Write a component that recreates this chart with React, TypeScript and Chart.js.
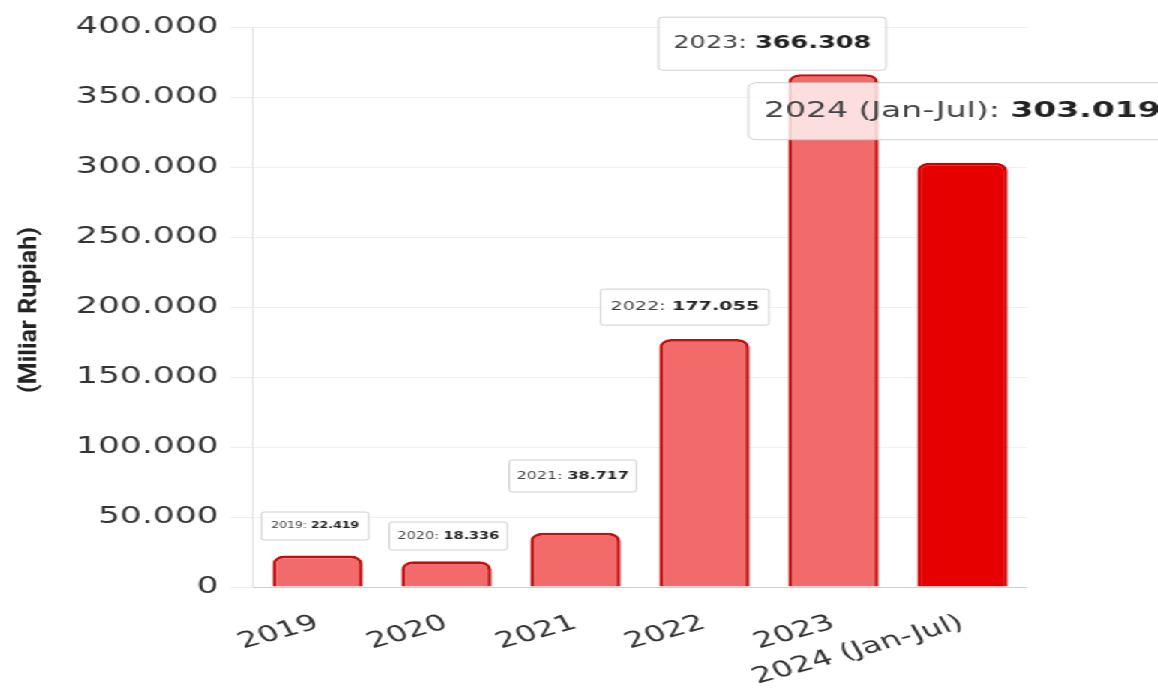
import React, { useEffect, useRef } from 'react';
import { Chart, registerables } from 'chart.js';

Chart.register(...registerables);

// ---------- data ----------
const categories = ['2019', '2020', '2021', '2022', '2023', '2024 (Jan-Jul)'];
const values = [22419, 18336, 38717, 177055, 366308, 303019];
const yMax = 400000;
const yStep = 50000;
const axisTitle = '(Miliar Rupiah)';

// ---------- styles ----------
const SX = 1.5; // horizontal stretch of the picture
const W = 1158;
const H = 695;
const FONT = '"DejaVu Sans", sans-serif';

const barFill = ['#f26a6a', '#f26a6a', '#f26a6a', '#f26a6a', '#f26a6a', '#e60000'];
const barEdge = ['#c30e0e', '#c30e0e', '#c30e0e', '#c30e0e', '#c30e0e', '#d00000'];

// callout boxes: font size, x shift, gap above bar, box height, side padding, radius
const calloutStyle = [
  { size: 8.3, dx: -1.7, gap: 15.6, h: 28, padX: 6.5, r: 2 },
  { size: 9.6, dx: 1.3, gap: 11.3, h: 28, padX: 5.5, r: 2 },
  { size: 10.6, dx: -1.7, gap: 40.8, h: 32, padX: 5, r: 2 },
  { size: 12.8, dx: -13, gap: 14, h: 36, padX: 6.5, r: 2 },
  { size: 17, dx: -40.7, gap: 4, h: 53, padX: 10, r: 3 },
  { size: 22, dx: 0, gap: 23, h: 57, padX: 10.5, r: 5 },
];

const fmt = (v: number) => String(v).replace(/\B(?=(\d{3})+(?!\d))/g, '.');

const calloutPlugin = {
  id: 'callouts',
  afterDatasetsDraw(chart: any) {
    const ctx = chart.ctx as CanvasRenderingContext2D;
    const meta = chart.getDatasetMeta(0);
    meta.data.forEach((bar: any, i: number) => {
      const st = calloutStyle[i];
      const normal = categories[i] + ': ';
      const bold = fmt(values[i]);
      ctx.save();
      ctx.font = `${st.size}px ${FONT}`;
      const w1 = ctx.measureText(normal).width;
      ctx.font = `bold ${st.size}px ${FONT}`;
      const w2 = ctx.measureText(bold).width;
      const bw = w1 + w2 + 2 * st.padX;
      const cx = bar.x + st.dx;
      const bottom = bar.y - st.gap;
      const top = bottom - st.h;
      const left = cx - bw / 2;
      ctx.beginPath();
      (ctx as any).roundRect(left, top, bw, st.h, st.r);
      ctx.fillStyle = 'rgba(255,255,255,0.78)';
      ctx.fill();
      ctx.lineWidth = 0.8;
      ctx.strokeStyle = '#c4c4c4';
      ctx.stroke();
      ctx.textBaseline = 'middle';
      ctx.textAlign = 'left';
      const ty = top + st.h / 2;
      ctx.font = `${st.size}px ${FONT}`;
      ctx.fillStyle = '#444';
      ctx.fillText(normal, left + st.padX, ty);
      ctx.font = `bold ${st.size}px ${FONT}`;
      ctx.fillStyle = '#222';
      ctx.fillText(bold, left + st.padX + w1, ty);
      ctx.restore();
    });
  },
};

const titlePlugin = {
  id: 'yTitle',
  afterDraw(chart: any) {
    const ctx = chart.ctx as CanvasRenderingContext2D;
    const { top, bottom } = chart.chartArea;
    ctx.save();
    ctx.translate(30 / SX, (top + bottom) / 2 + 3);
    ctx.scale(1 / SX, 1);
    ctx.rotate(-Math.PI / 2);
    ctx.scale(0.96, 1);
    ctx.font = 'bold 26px Roboto, "Liberation Sans", sans-serif';
    ctx.fillStyle = '#222';
    ctx.textAlign = 'center';
    ctx.textBaseline = 'middle';
    ctx.fillText(axisTitle, 0, 0);
    ctx.restore();
  },
};

export default function App() {
  const ref = useRef<HTMLCanvasElement | null>(null);

  useEffect(() => {
    document.body.style.overflow = 'hidden';
    const canvas = ref.current;
    if (!canvas) return;
    const chart = new Chart(canvas, {
      type: 'bar',
      data: {
        labels: categories,
        datasets: [
          {
            data: values,
            backgroundColor: barFill,
            borderColor: barEdge,
            borderWidth: 2.6,
            borderRadius: 8,
            borderSkipped: 'bottom',
            barPercentage: 0.7,
            categoryPercentage: 1,
          },
        ],
      },
      options: {
        animation: false,
        responsive: true,
        maintainAspectRatio: false,
        devicePixelRatio: 1,
        layout: { padding: { top: 27, right: W / SX - 1027 / SX, bottom: 0, left: 0 } },
        plugins: {
          legend: { display: false },
          tooltip: { enabled: false },
          title: { display: false },
        },
        scales: {
          x: {
            grid: { display: false, drawTicks: false },
            border: { display: true, color: '#cfcfcf', width: 1 },
            ticks: {
              autoSkip: false,
              minRotation: 22,
              maxRotation: 22,
              padding: 23,
              color: '#333',
              font: { family: FONT, size: 22 },
            },
            afterFit: (scale: any) => {
              scale.height = H - 587;
            },
          },
          y: {
            min: 0,
            max: yMax,
            grid: { color: '#f0f0f0', tickLength: 15, tickColor: '#ececec' },
            border: { display: true, color: '#e4e4e4', width: 1 },
            ticks: {
              stepSize: yStep,
              padding: 8,
              color: '#333',
              font: { family: FONT, size: 23 },
              callback: (v: any) => fmt(Number(v)),
            },
            afterFit: (scale: any) => {
              scale.width = 253 / SX;
            },
          },
        },
      },
      plugins: [calloutPlugin, titlePlugin],
    });
    return () => chart.destroy();
  }, []);

  return (
    <div
      style={{
        position: 'absolute',
        left: 0,
        top: 0,
        width: W / SX,
        height: H,
        transform: `scaleX(${SX})`,
        transformOrigin: '0 0',
        background: '#fff',
      }}
    >
      <canvas ref={ref} />
    </div>
  );
}
